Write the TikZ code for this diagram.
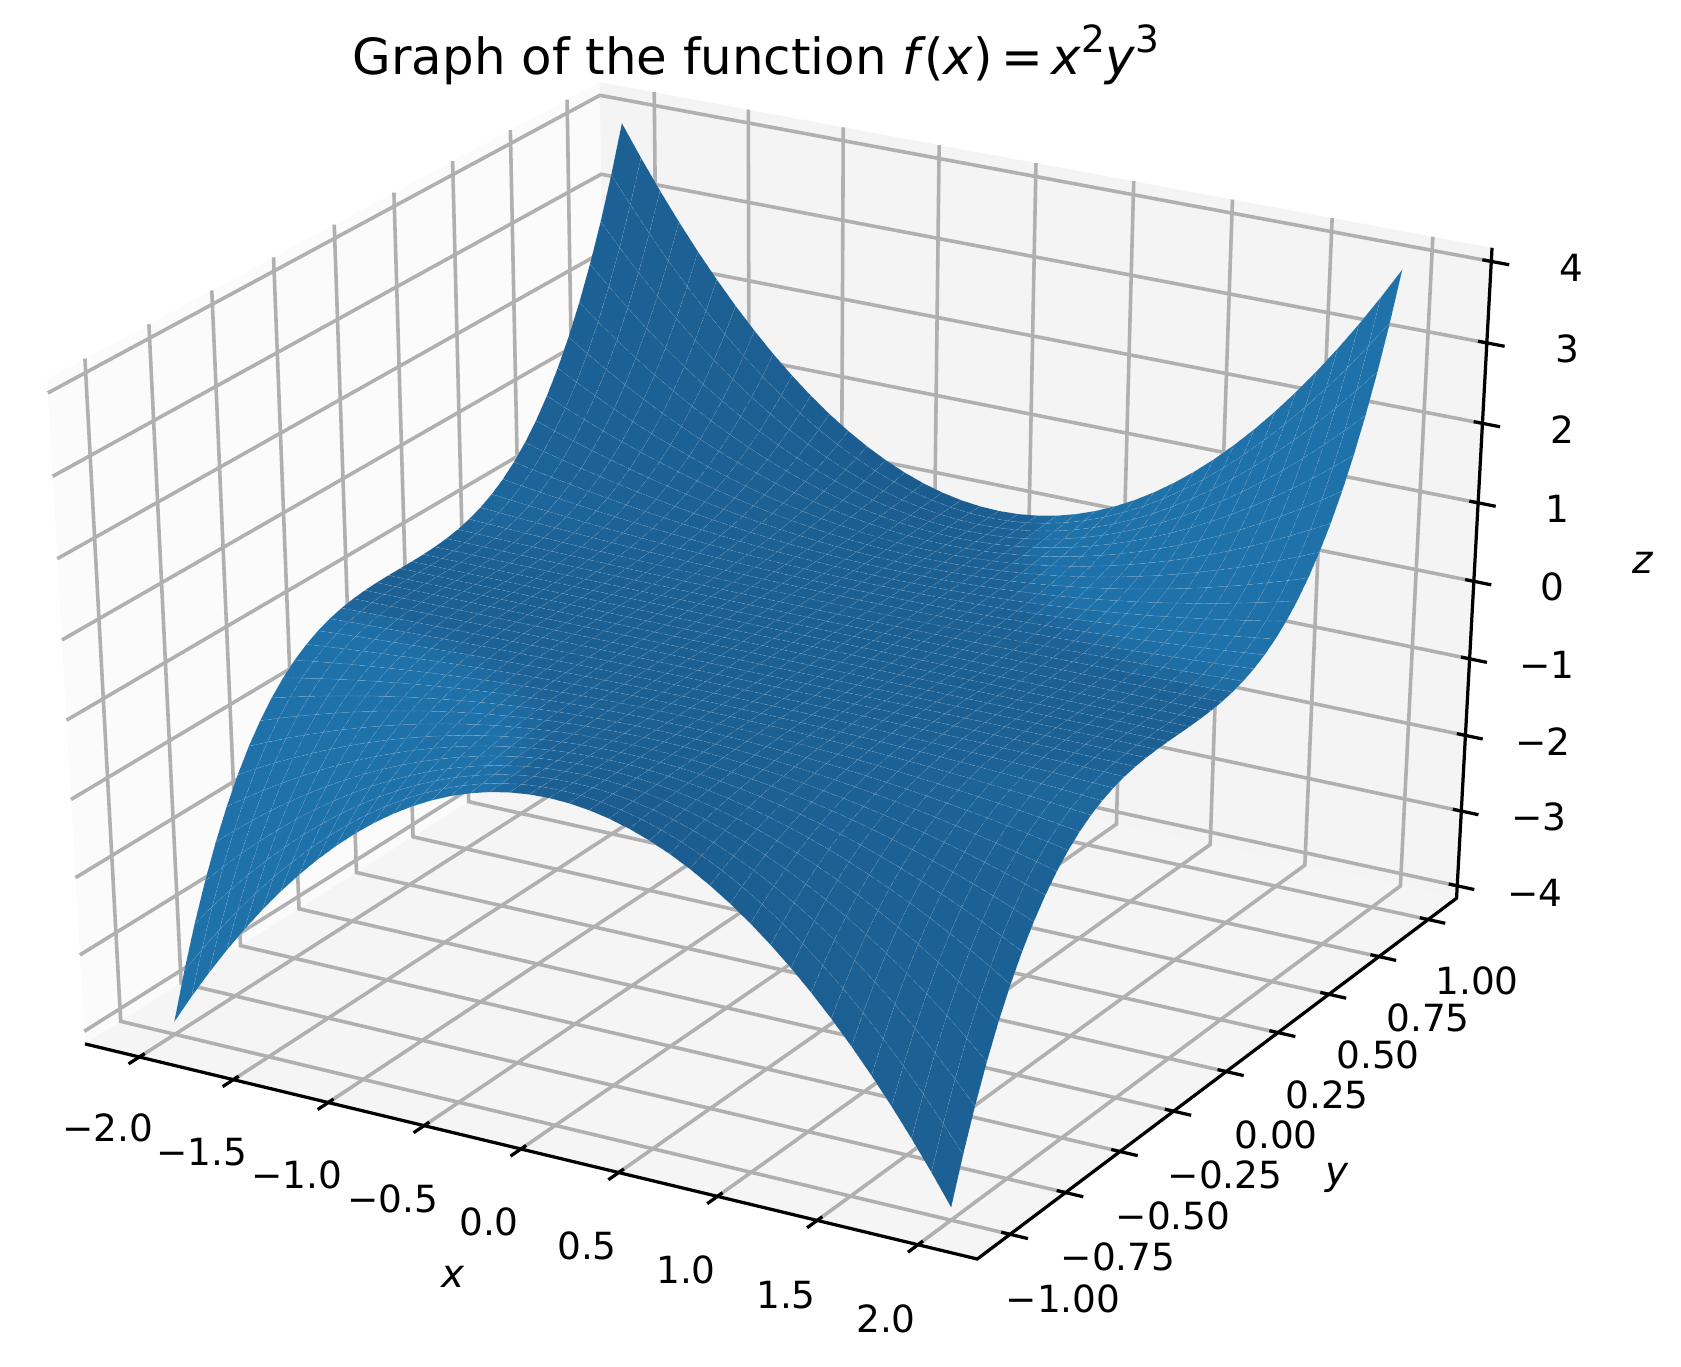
\documentclass[tikz,border=0pt]{standalone}
\usepackage{fontspec}
\setmainfont{DejaVu Sans}
\usepackage{tikz}
\definecolor{surfdark}{HTML}{1B5C8F}
\definecolor{surfbright}{HTML}{1F71AA}
\definecolor{leftpane}{HTML}{FBFBFB}
\definecolor{backpane}{HTML}{F4F4F4}
\definecolor{floorpane}{HTML}{F5F5F5}
\definecolor{gridgray}{HTML}{B0B0B0}
\newcommand\mvar[1]{\textit{#1}}
\newcommand\msup[1]{\raisebox{0.44em}{\fontsize{10.4}{10}\selectfont #1}}
\newcommand\PlotPoint[4]{%
  \pgfmathsetmacro\rvx{(#2)/4.4}%
  \pgfmathsetmacro\rvy{(#3)/2.2}%
  \pgfmathsetmacro\rvz{(#4)/8}%
  \pgfmathsetmacro\wdist{10-0.43301*\rvx+0.75*\rvy-0.5*\rvz}%
  \pgfmathsetmacro\pvx{781.8+9888*(0.86603*\rvx+0.5*\rvy)/\wdist}%
  \pgfmathsetmacro\pvy{649.6-7285*(-0.25*\rvx+0.43301*\rvy+0.86603*\rvz)/\wdist}%
  \coordinate (#1) at (\pvx,\pvy);%
}
\tikzset{
  gridline/.style={gridgray,line width=1pt},
  axisline/.style={black,line width=0.9pt},
  facet/.style={draw=white,draw opacity=0.13,line width=0.2pt,line join=round,dash pattern=on 1.6pt off 1pt},
  ticklabel/.style={inner sep=0pt,outer sep=0pt,font=\fontsize{10.4}{12}\selectfont},
  axislabel/.style={inner sep=0pt,outer sep=0pt,font=\fontsize{10.8}{12}\selectfont\itshape}
}
\begin{document}
\begin{tikzpicture}[x=0.2778pt,y=-0.2778pt]

	% Define some variables
	\def\xbox{2.29167}   % half width of the box in x
	\def\ybox{1.14583}   % half width of the box in y
	\def\zbox{4.16667}   % half height of the box
	\def\xticks{-2,-1.5,-1,-0.5,0,0.5,1,1.5,2}
	\def\yticks{-1,-0.75,-0.5,-0.25,0,0.25,0.5,0.75,1}
	\def\zticks{-4,-3,-2,-1,0,1,2,3,4}

	\fill[white] (0,0) rectangle (1681,1366);
	\useasboundingbox (0,0) rectangle (1681,1366);

	\PlotPoint{A}{-\xbox}{-\ybox}{-\zbox}
	\PlotPoint{B}{\xbox}{-\ybox}{-\zbox}
	\PlotPoint{C}{\xbox}{\ybox}{-\zbox}
	\PlotPoint{D}{-\xbox}{\ybox}{-\zbox}
	\PlotPoint{At}{-\xbox}{-\ybox}{\zbox}
	\PlotPoint{Ct}{\xbox}{\ybox}{\zbox}
	\PlotPoint{Dt}{-\xbox}{\ybox}{\zbox}

	% panes
	\fill[leftpane] (A) -- (D) -- (Dt) -- (At) -- cycle;
	\fill[backpane] (D) -- (C) -- (Ct) -- (Dt) -- cycle;
	\fill[floorpane] (A) -- (B) -- (C) -- (D) -- cycle;

	% grid on the panes
	\foreach \t in \xticks {
		\PlotPoint{g1}{\t}{-\ybox}{-\zbox}
		\PlotPoint{g2}{\t}{\ybox}{-\zbox}
		\PlotPoint{g3}{\t}{\ybox}{\zbox}
		\draw[gridline] (g1) -- (g2) -- (g3);
	}
	\foreach \t in \yticks {
		\PlotPoint{g1}{\xbox}{\t}{-\zbox}
		\PlotPoint{g2}{-\xbox}{\t}{-\zbox}
		\PlotPoint{g3}{-\xbox}{\t}{\zbox}
		\draw[gridline] (g1) -- (g2) -- (g3);
	}
	\foreach \t in \zticks {
		\PlotPoint{g1}{-\xbox}{-\ybox}{\t}
		\PlotPoint{g2}{-\xbox}{\ybox}{\t}
		\PlotPoint{g3}{\xbox}{\ybox}{\t}
		\draw[gridline] (g1) -- (g2) -- (g3);
	}

	% axes and ticks
	\draw[axisline] (A) -- (B) -- (C) -- (Ct);
	\foreach \t in \xticks {
		\PlotPoint{t1}{\t}{-\ybox+0.022}{-\zbox}
		\PlotPoint{t2}{\t}{-\ybox-0.044}{-\zbox}
		\draw[axisline] (t1) -- (t2);
	}
	\foreach \t in \yticks {
		\PlotPoint{t1}{\xbox-0.044}{\t}{-\zbox}
		\PlotPoint{t2}{\xbox+0.088}{\t}{-\zbox}
		\draw[axisline] (t1) -- (t2);
	}
	\foreach \t in \zticks {
		\PlotPoint{t1}{\xbox-0.044}{\ybox}{\t}
		\PlotPoint{t2}{\xbox+0.088}{\ybox}{\t}
		\draw[axisline] (t1) -- (t2);
	}

	% surface z = x^2 y^3, vertices first
	\foreach \i in {0,...,40} {
		\foreach \j in {0,...,40} {
			\pgfmathsetmacro\xv{-2+0.1*\i}
			\pgfmathsetmacro\yv{1-0.05*\j}
			\PlotPoint{s-\i-\j}{\xv}{\yv}{\xv*\xv*\yv*\yv*\yv}
		}
	}
	% then the facets, far ones first
	\foreach \j [evaluate=\j as \jnext using int(\j+1)] in {0,...,39} {
		\foreach \i [evaluate=\i as \inext using int(\i+1)] in {0,...,39} {
			\pgfmathsetmacro\xc{-1.95+0.1*\i}
			\pgfmathsetmacro\yc{0.975-0.05*\j}
			\pgfmathsetmacro\zx{2*\xc*\yc*\yc*\yc}
			\pgfmathsetmacro\zy{3*\xc*\xc*\yc*\yc}
			\pgfmathsetmacro\shd{(\zx+\zy+0.5)/(1.5*sqrt(1+\zx*\zx+\zy*\zy))}
			\pgfmathsetmacro\mixp{100*min(1,\shd<0.6 ? max(0,(\shd-0.09)*0.55) : 0.28+(\shd-0.6)*3.6)}
			\filldraw[facet,fill=surfbright!\mixp!surfdark] (s-\i-\j) -- (s-\inext-\j) -- (s-\inext-\jnext) -- (s-\i-\jnext) -- cycle;
		}
	}

	% labels
	\foreach \lx/\ly/\lab [count=\n] in {108/1128/−2.0,202/1152/−1.5,297/1175/−1.0,393/1199/−0.5,489/1222/0.0,587/1246/0.5,686/1270/1.0,786/1295/1.5,886/1319/2.0}
		\node[ticklabel] (xtick\n) at (\lx,\ly) {\lab};
	\foreach \lx/\ly/\lab [count=\n] in {1063/1299/−1.00,1118/1257/−0.75,1173/1216/−0.50,1225/1175/−0.25,1276/1135/0.00,1327/1095/0.25,1378/1055/0.50,1428/1018/0.75,1477/981/1.00}
		\node[ticklabel] (ytick\n) at (\lx,\ly) {\lab};
	\foreach \lx/\ly/\lab [count=\n] in {1535/893/−4,1539/817/−3,1543/742/−2,1547/665/−1,1552/587/0,1557/509/1,1562/430/2,1567/349/3,1571/268/4}
		\node[ticklabel] (ztick\n) at (\lx,\ly) {\lab};
	\node[axislabel] (xlab) at (453,1277) {x};
	\node[axislabel] (ylab) at (1337,1178) {y};
	\node[axislabel] (zlab) at (1643,563) {z};
	\node[anchor=base,inner sep=0pt,font=\fontsize{13.85}{17}\selectfont] (title) at (756,74)
		{Graph of the function \mvar{f}\kern-0.6pt(\mvar{x})\,=\,\mvar{x}\msup{2}\mvar{y}\msup{3}};

\end{tikzpicture}
\end{document}
